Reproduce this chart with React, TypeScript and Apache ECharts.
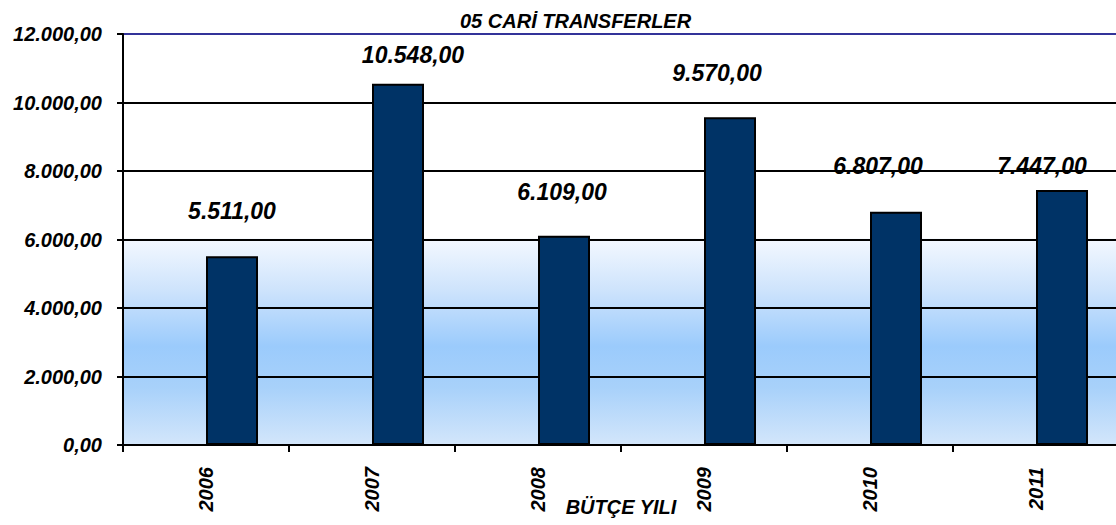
import React, { useEffect, useRef } from "react";
import * as echarts from "echarts";

const categories = ["2006", "2007", "2008", "2009", "2010", "2011"];
const values = [5511, 10548, 6109, 9570, 6807, 7447];
const yTicks = [0, 2000, 4000, 6000, 8000, 10000, 12000];
const titleText = "05 CARİ TRANSFERLER";
const xAxisName = "BÜTÇE YILI";

// label layout tweaks (pixels), matching the hand-placed labels of the original
const labelDx = [0, 15, -2, -13, -18, -20];
const labelGap = [46, 29, 44, 45, 46, 24];

const FONT = "'Liberation Sans', Arial, sans-serif";

function trFormat(v: number): string {
  const fixed = Math.abs(v).toFixed(2);
  const [intPart, dec] = fixed.split(".");
  const withDots = intPart.replace(/\B(?=(\d{3})+(?!\d))/g, ".");
  return (v < 0 ? "-" : "") + withDots + "," + dec;
}

export default function App() {
  const ref = useRef<HTMLDivElement>(null);
  useEffect(() => {
    if (!ref.current) return;
    const chart = echarts.init(ref.current, null, { renderer: "svg" });
    const splitColors = yTicks.map((t, i) => (i === yTicks.length - 1 ? "#333399" : "#000000"));
    chart.setOption({
      animation: false,
      backgroundColor: "#ffffff",
      title: {
        text: titleText,
        left: 455,
        top: 6,
        textStyle: {
          fontFamily: FONT,
          fontSize: 20,
          fontWeight: "bold",
          fontStyle: "italic",
          color: "#000000",
        },
      },
      grid: {
        left: 123,
        right: -3,
        top: 34,
        bottom: 80,
        containLabel: false,
        outerBoundsMode: "none",
        show: true,
        borderWidth: 0,
        backgroundColor: new echarts.graphic.LinearGradient(0, 0, 0, 1, [
          { offset: 0, color: "#ffffff" },
          { offset: 0.495, color: "#ffffff" },
          { offset: 0.5, color: "#f3f8ff" },
          { offset: 0.62, color: "#cfe4fc" },
          { offset: 0.76, color: "#9bcbfc" },
          { offset: 0.86, color: "#a8d1fa" },
          { offset: 1, color: "#d3e6fb" },
        ]),
      },
      xAxis: {
        type: "category",
        data: categories,
        boundaryGap: true,
        name: xAxisName,
        nameLocation: "middle",
        nameGap: 52,
        nameMoveOverlap: false,
        nameTextStyle: {
          fontFamily: FONT,
          fontSize: 20,
          fontWeight: "bold",
          fontStyle: "italic",
          color: "#000000",
        },
        axisLine: { show: true, lineStyle: { color: "#000000", width: 2 } },
        axisTick: { show: true, length: 7, lineStyle: { color: "#000000", width: 2 } },
        axisLabel: {
          rotate: 90,
          margin: 22,
          fontFamily: FONT,
          fontSize: 20,
          fontWeight: "bold",
          fontStyle: "italic",
          color: "#000000",
        },
      },
      yAxis: {
        type: "value",
        min: 0,
        max: 12000,
        interval: 2000,
        axisLine: { show: true, lineStyle: { color: "#000000", width: 2 } },
        axisTick: { show: true, length: 6, lineStyle: { color: "#000000", width: 2 } },
        axisLabel: {
          margin: 21,
          formatter: (v: number) => trFormat(v),
          fontFamily: FONT,
          fontSize: 20,
          fontWeight: "bold",
          fontStyle: "italic",
          color: "#000000",
        },
        splitLine: { show: true, lineStyle: { color: splitColors, width: 2 } },
      },
      series: [
        {
          type: "bar",
          name: "empty",
          data: categories.map(() => null),
          barWidth: 52,
          barGap: "0%",
          silent: true,
        },
        {
          type: "bar",
          name: "CARİ TRANSFERLER",
          barWidth: 52,
          barGap: "0%",
          itemStyle: { color: "#003366", borderColor: "#000000", borderWidth: 2 },
          data: values.map((v, i) => ({
            value: v,
            label: {
              show: true,
              position: "top",
              distance: labelGap[i] - 12,
              offset: [labelDx[i], 0],
            },
          })),
          label: {
            show: true,
            formatter: (p: any) => trFormat(p.value),
            fontFamily: FONT,
            fontSize: 23,
            fontWeight: "bold",
            fontStyle: "italic",
            color: "#000000",
          },
        },
      ],
    });
    return () => chart.dispose();
  }, []);
  return (
    <div
      ref={ref}
      style={{ position: "fixed", left: 0, top: 0, width: 1116, height: 525 }}
    />
  );
}
